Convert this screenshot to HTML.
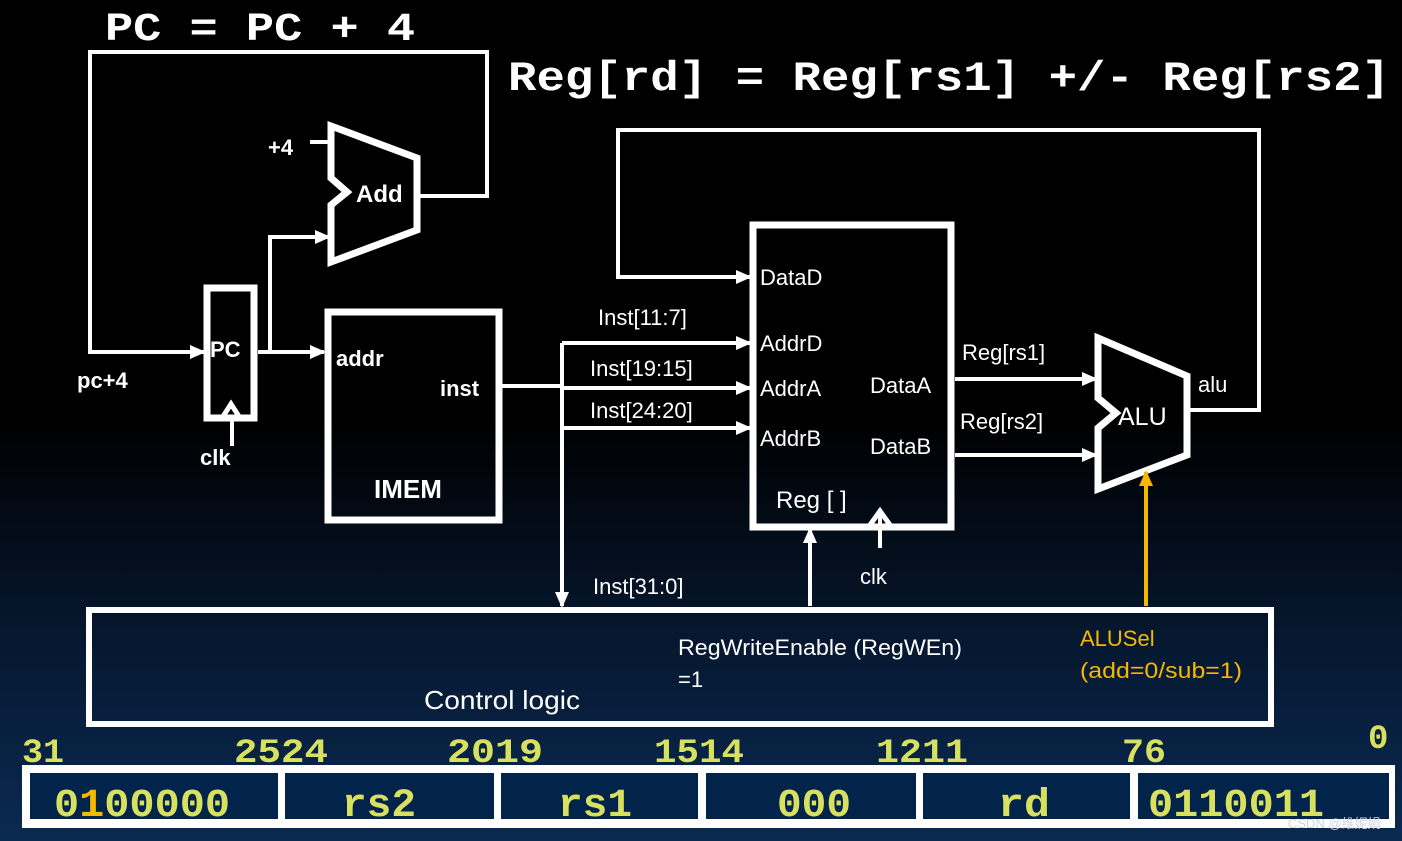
<!DOCTYPE html>
<html><head><meta charset="utf-8"><style>
html,body{margin:0;padding:0;}
body{width:1402px;height:841px;overflow:hidden;background:linear-gradient(#000 0px,#000 420px,#061830 640px,#0a2a52 841px);}
svg{display:block}
text{font-family:"Liberation Sans",sans-serif;fill:#fff;}
.m{font-family:"Liberation Mono",monospace;font-weight:bold;}
.y{fill:#d8e060}
</style></head><body>
<svg width="1402" height="841" viewBox="0 0 1402 841">
<defs>
<marker id="a" markerWidth="16" markerHeight="16" refX="14" refY="8" orient="auto" markerUnits="userSpaceOnUse"><path d="M0,1 L16,8 L0,15 z" fill="#fff"/></marker>
<marker id="b" markerWidth="16" markerHeight="16" refX="14" refY="8" orient="auto" markerUnits="userSpaceOnUse"><path d="M0,1 L16,8 L0,15 z" fill="#f5b800"/></marker>
</defs>
<g stroke="#fff" fill="none" stroke-width="4">
<polyline points="420,196 487,196 487,52 90,52 90,352 204,352" marker-end="url(#a)"/>
<line x1="258" y1="352" x2="324" y2="352" marker-end="url(#a)"/>
<polyline points="270,352 270,237 329,237" marker-end="url(#a)"/>
<line x1="310" y1="142" x2="332" y2="142"/>
<rect x="207" y="288" width="47" height="130" stroke-width="7"/>
<polyline points="222,418 231,404 240,418" stroke-width="5"/>
<line x1="232" y1="418" x2="232" y2="446"/>
<polygon points="331,126 417,158 417,230 331,262 331,205 347,192 331,178" stroke-width="7"/>
<rect x="328" y="312" width="171" height="208" stroke-width="7"/>
<line x1="502" y1="386" x2="562" y2="386"/>
<line x1="562" y1="343" x2="562" y2="606" marker-end="url(#a)"/>
<line x1="562" y1="343" x2="750" y2="343" marker-end="url(#a)"/>
<line x1="562" y1="388" x2="750" y2="388" marker-end="url(#a)"/>
<line x1="562" y1="428" x2="750" y2="428" marker-end="url(#a)"/>
<rect x="753" y="225" width="198" height="302" stroke-width="7"/>
<polyline points="1190,410 1259,410 1259,130 618,130 618,277 750,277" marker-end="url(#a)"/>
<line x1="955" y1="379" x2="1096" y2="379" marker-end="url(#a)"/>
<line x1="955" y1="455" x2="1096" y2="455" marker-end="url(#a)"/>
<polyline points="870,525 880,511 890,525" stroke-width="5"/>
<line x1="880" y1="513" x2="880" y2="548"/>
<line x1="810" y1="606" x2="810" y2="529" marker-end="url(#a)"/>
<polygon points="1098,338 1187,376 1187,455 1098,489 1098,428 1116,413 1098,398" stroke-width="7"/>
<rect x="89" y="610" width="1182" height="114" stroke-width="6"/>
</g>
<line x1="1146" y1="606" x2="1146" y2="472" stroke="#f5b800" stroke-width="4" marker-end="url(#b)"/>
<text class="m" x="105" y="40" font-size="40" textLength="310" lengthAdjust="spacingAndGlyphs">PC = PC + 4</text>
<text class="m" x="508" y="90" font-size="42" textLength="882" lengthAdjust="spacingAndGlyphs">Reg[rd] = Reg[rs1] +/- Reg[rs2]</text>
<g font-size="22" font-weight="bold">
<text x="268" y="155">+4</text>
<text x="356" y="202" font-size="24">Add</text>
<text x="210" y="357">PC</text>
<text x="77" y="388">pc+4</text>
<text x="200" y="465">clk</text>
<text x="336" y="366">addr</text>
<text x="440" y="396">inst</text>
<text x="374" y="498" font-size="26">IMEM</text>
</g>
<g font-size="22">
<text x="598" y="325">Inst[11:7]</text>
<text x="590" y="376">Inst[19:15]</text>
<text x="590" y="418">Inst[24:20]</text>
<text x="593" y="594">Inst[31:0]</text>
<text x="760" y="285">DataD</text>
<text x="760" y="351">AddrD</text>
<text x="760" y="396">AddrA</text>
<text x="760" y="446">AddrB</text>
<text x="870" y="393">DataA</text>
<text x="870" y="454">DataB</text>
<text x="776" y="508" font-size="24">Reg [ ]</text>
<text x="860" y="584">clk</text>
<text x="962" y="360">Reg[rs1]</text>
<text x="960" y="429">Reg[rs2]</text>
<text x="1198" y="392">alu</text>
<text x="1118" y="425" font-size="25">ALU</text>
<text x="678" y="655" textLength="284" lengthAdjust="spacingAndGlyphs">RegWriteEnable (RegWEn)</text>
<text x="678" y="687">=1</text>
<text x="1080" y="646" style="fill:#f5b800">ALUSel</text>
<text x="1080" y="678" style="fill:#f5b800" textLength="162" lengthAdjust="spacingAndGlyphs">(add=0/sub=1)</text>
<text x="424" y="709" font-size="26" textLength="156" lengthAdjust="spacingAndGlyphs">Control logic</text>
</g>
<g font-size="34">
<text class="m y" x="22" y="762" textLength="42" lengthAdjust="spacingAndGlyphs">31</text>
<text class="m y" x="234" y="762" textLength="94" lengthAdjust="spacingAndGlyphs">2524</text>
<text class="m y" x="447" y="762" textLength="96" lengthAdjust="spacingAndGlyphs">2019</text>
<text class="m y" x="654" y="762" textLength="90" lengthAdjust="spacingAndGlyphs">1514</text>
<text class="m y" x="876" y="762" textLength="92" lengthAdjust="spacingAndGlyphs">1211</text>
<text class="m y" x="1122" y="762" textLength="44" lengthAdjust="spacingAndGlyphs">76</text>
<text class="m y" x="1368" y="748">0</text>
</g>
<rect x="22" y="765" width="1373" height="63" fill="#fff"/>
<g fill="#02234a">
<rect x="30" y="773" width="248" height="46"/>
<rect x="285" y="773" width="209" height="46"/>
<rect x="501" y="773" width="197" height="46"/>
<rect x="706" y="773" width="210" height="46"/>
<rect x="923" y="773" width="207" height="46"/>
<rect x="1138" y="773" width="251" height="46"/>
</g>
<g font-size="40">
<text class="m y" x="54" y="816" textLength="176" lengthAdjust="spacingAndGlyphs">0<tspan style="fill:#f5b800">1</tspan>00000</text>
<text class="m y" x="342" y="816" textLength="74" lengthAdjust="spacingAndGlyphs">rs2</text>
<text class="m y" x="558" y="816" textLength="74" lengthAdjust="spacingAndGlyphs">rs1</text>
<text class="m y" x="777" y="816" textLength="74" lengthAdjust="spacingAndGlyphs">000</text>
<text class="m y" x="998" y="816" textLength="52" lengthAdjust="spacingAndGlyphs">rd</text>
<text class="m y" x="1148" y="816" textLength="176" lengthAdjust="spacingAndGlyphs">0110011</text>
</g>
<text x="1288" y="828" font-size="13" style="fill:#cfd6e0">CSDN @维妮娟</text>
</svg>
</body></html>
